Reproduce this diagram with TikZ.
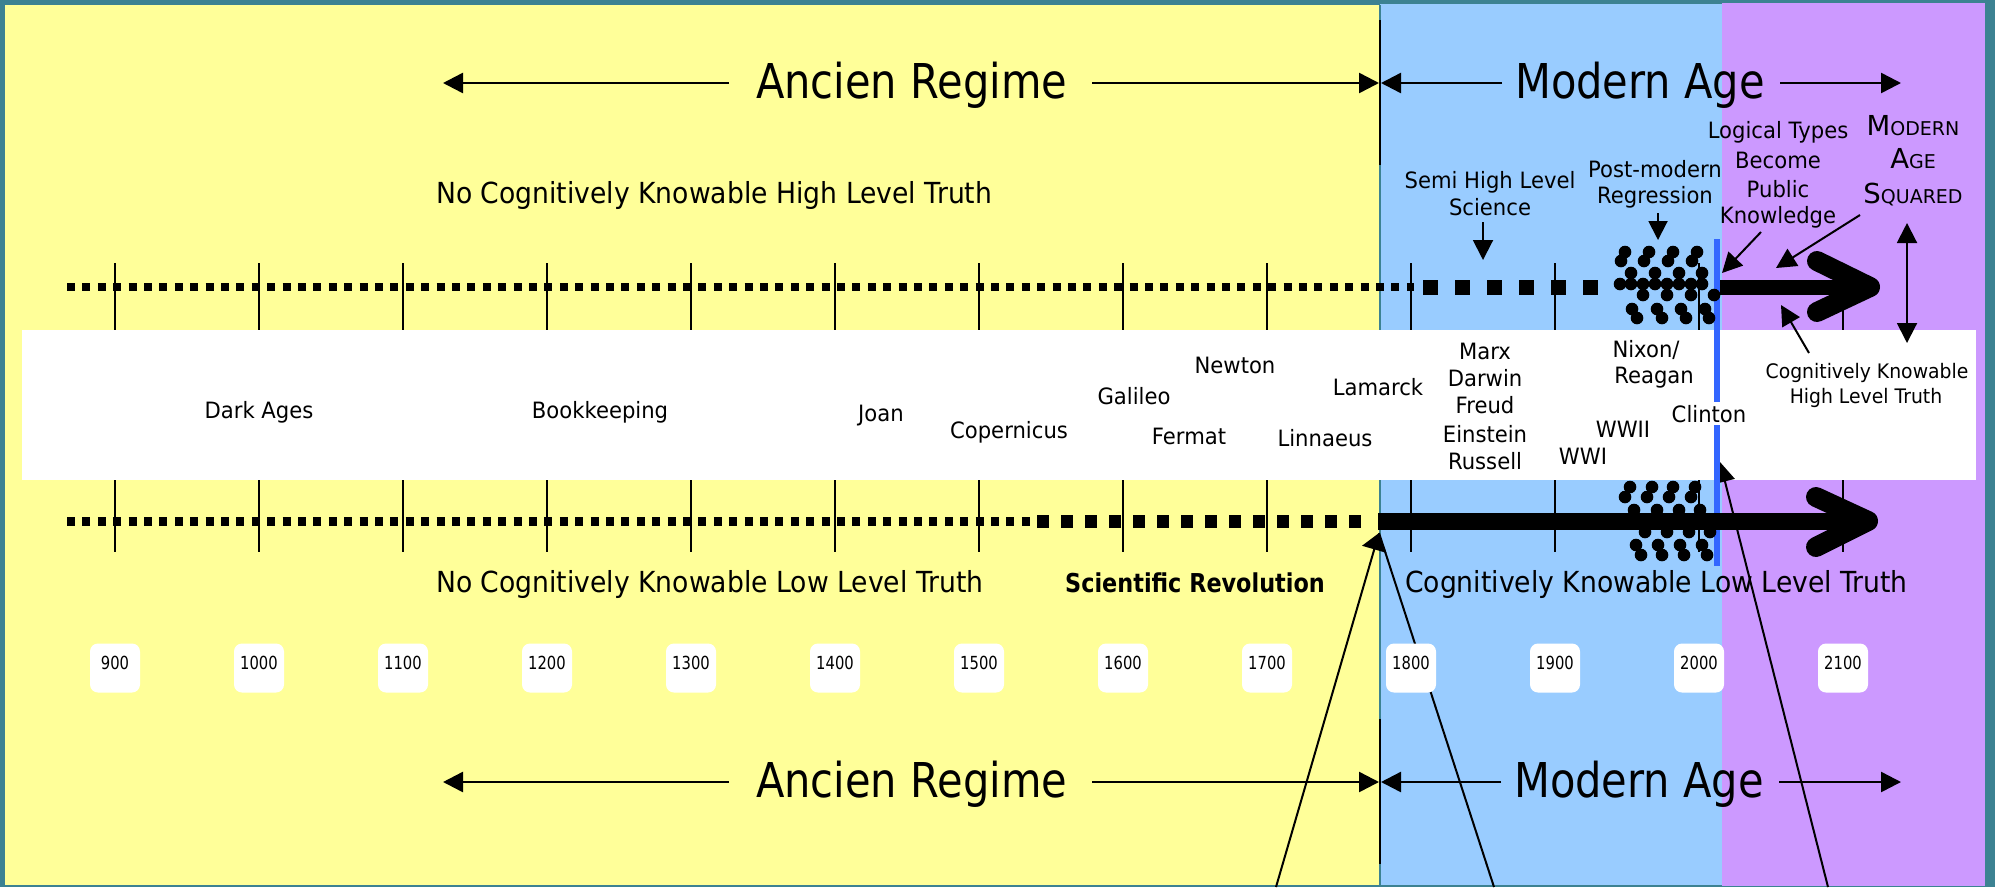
\documentclass[tikz,border=0pt]{standalone}
\usepackage{fontspec}
\setmainfont{DejaVu Sans}
\newfontfamily\fnames[FakeStretch=0.94]{DejaVu Sans}
\newfontfamily\ftitle[FakeStretch=0.866]{DejaVu Sans}
\newfontfamily\ftruth[FakeStretch=0.918]{DejaVu Sans}
\newfontfamily\fyear[FakeStretch=0.82]{DejaVu Sans}
\newfontfamily\fboldsr[FakeStretch=0.86]{DejaVu Sans}
\newfontfamily\fsc{DejaVu Sans}
\usetikzlibrary{arrows.meta}
\definecolor{frame}{RGB}{60,130,146}
\definecolor{ylw}{HTML}{FFFF99}
\definecolor{blu}{HTML}{99CCFF}
\definecolor{pur}{HTML}{CC99FF}
\definecolor{bline}{HTML}{3366FF}
\newcommand{\bigsc}{\fontsize{27.5pt}{33pt}\selectfont}
\newcommand{\smallsc}{\fontsize{19pt}{33pt}\selectfont}
\begin{document}
\begin{tikzpicture}[x=1pt,y=-1pt,
  lbl/.style={inner sep=0pt, anchor=base, font={\fnames\fontsize{22.5pt}{27pt}\selectfont}},
  smalllbl/.style={inner sep=0pt, anchor=base, font={\fnames\fontsize{20pt}{25pt}\selectfont}},
  sclbl/.style={inner sep=0pt, anchor=base, font={\fsc}},
  titlelbl/.style={inner sep=0pt, anchor=base west, font={\ftitle\fontsize{48pt}{58pt}\selectfont}},
  truthlbl/.style={inner sep=0pt, anchor=base west, font={\ftruth\fontsize{29pt}{35pt}\selectfont}},
  boldlbl/.style={inner sep=0pt, anchor=base west, font={\fboldsr\bfseries\fontsize{26pt}{31pt}\selectfont}},
  yearbox/.style={fill=white, rounded corners=8pt, minimum width=50pt, minimum height=49pt, inner sep=0pt,
    text height=13pt, text depth=10pt, font={\fyear\fontsize{18pt}{22pt}\selectfont}},
  ptr/.style={line width=2.5pt, -{Triangle[length=20pt,width=20pt]}},
  thinptr/.style={line width=2pt, -{Triangle[length=20pt,width=20pt]}},
  dblptr/.style={line width=2pt, {Triangle[length=20pt,width=20pt]}-{Triangle[length=20pt,width=20pt]}},
  tick/.style={line width=2pt},
  chevron/.style={line width=20pt, line cap=round, line join=round},
  dot/.style={fill=black}
]
\useasboundingbox (0,0) rectangle (1995,887);
% background panels
\fill[frame] (0,0) rectangle (1995,887);
\fill[ylw] (5,5) rectangle (1380,885);
\fill[blu] (1380,4) rectangle (1722,885);
\fill[pur] (1722,3) rectangle (1985,886);
\draw[frame, line width=1.2pt] (1380,5) -- (1380,885);

% ticks
\foreach \i in {0,...,12} \draw[tick] ({115+144*\i},263) -- ({115+144*\i},552);

% white band
\fill[white] (22,330) rectangle (1976,480);

% long pointer lines from below
\coordinate (srTip) at (1379,533);
\coordinate (clTip) at (1720,462);
\coordinate (bl1) at (1276,887);
\coordinate (bl2) at (1494,887);
\coordinate (bl3) at (1828,887);
\draw[line width=2pt] (bl2) -- (srTip);
\draw[line width=2pt, -{Triangle[length=17pt,width=25pt]}] (bl1) -- (srTip);
\draw[thinptr] (bl3) -- (clTip);

% year boxes
\foreach \yr [count=\i from 0] in {900,1000,...,2100}
  \node[yearbox] (y\yr) at ({115+144*\i},668) {\yr};

% dotted / dashed lines
\draw[line width=8pt, dash pattern=on 8pt off 7.4pt] (67,287) -- (1414,287);
\draw[line width=15pt, dash pattern=on 15pt off 17pt] (1423,287) -- (1599,287);
\draw[line width=9pt, dash pattern=on 8pt off 7.4pt] (67,521) -- (1040,521);
\draw[line width=13pt, dash pattern=on 12pt off 12pt] (1037,521) -- (1367,521);

% blue line
\draw[bline, line width=6pt] (1717,239) -- (1717,402);
\draw[bline, line width=6pt] (1717,425) -- (1717,566);

% thick arrows
\draw[line width=17pt] (1378,521) -- (1866,521);
\draw[chevron] (1816,497) -- (1868,521) -- (1816,547);
\draw[line width=15pt] (1720,287) -- (1866,287);
\draw[chevron] (1817,261) -- (1870,287) -- (1817,312);

% dot clusters
\foreach \p in {(1625,252),(1621,261),(1649,252),(1644,261),(1673,252),(1668,261),(1697,252),(1692,261),
  (1631,273),(1655,273),(1679,273),(1702,273),
  (1620,284),(1631,284),(1643,284),(1655,284),(1667,284),(1679,284),(1691,284),(1702,284),
  (1643,295),(1667,295),(1691,295),(1714,295),
  (1632,309),(1637,318),(1657,309),(1662,318),(1681,309),(1686,318),(1705,309),(1709,318)}
  \fill[dot] \p circle (6.3);
\foreach \p in {(1630,487),(1625,497),(1652,487),(1647,497),(1673,487),(1669,497),(1695,487),(1691,497),
  (1634,510),(1657,510),(1679,510),(1700,510),
  (1645,532),(1667,532),(1689,532),(1710,532),
  (1636,545),(1641,555),(1658,545),(1662,555),(1680,545),(1684,555),(1702,545),(1707,555)}
  \fill[dot] \p circle (6.3);

% boundary lines
\draw[line width=2.5pt] (1380,20) -- (1380,165);
\draw[line width=2.5pt] (1380,719) -- (1380,864);

% titles and their arrows
\node[titlelbl] (ar1) at (756,98) {Ancien Regime};
\node[titlelbl] (ma1) at (1515,98) {Modern Age};
\node[titlelbl] (ar2) at (756,797) {Ancien Regime};
\node[titlelbl] (ma2) at (1514,797) {Modern Age};
\coordinate (a1l) at (443,83);  \coordinate (a1r) at (1379,83);
\coordinate (m1l) at (1381,83); \coordinate (m1r) at (1901,83);
\coordinate (a2l) at (443,782); \coordinate (a2r) at (1379,782);
\coordinate (m2l) at (1381,782); \coordinate (m2r) at (1901,782);
\draw[ptr] (729,83) -- (a1l);
\draw[ptr] (1092,83) -- (a1r);
\draw[ptr] (1502,83) -- (m1l);
\draw[ptr] (1780,83) -- (m1r);
\draw[ptr] (729,782) -- (a2l);
\draw[ptr] (1092,782) -- (a2r);
\draw[ptr] (1501,782) -- (m2l);
\draw[ptr] (1779,782) -- (m2r);

% truth lines
\node[truthlbl] (nohigh) at (436,203) {No Cognitively Knowable High Level Truth};
\node[truthlbl] (nolow) at (436,592) {No Cognitively Knowable Low Level Truth};
\node[boldlbl] (scirev) at (1065,592) {Scientific Revolution};
\node[truthlbl] (cklow) at (1405,592) {Cognitively Knowable Low Level Truth};

% names in the band
\node[lbl] (dark) at (259,418) {Dark Ages};
\node[lbl] (book) at (600,418) {Bookkeeping};
\node[lbl] (joan) at (881,421) {Joan};
\node[lbl] (cop) at (1009,438) {Copernicus};
\node[lbl] (gal) at (1134,404) {Galileo};
\node[lbl] (newt) at (1235,373) {Newton};
\node[lbl] (ferm) at (1189,444) {Fermat};
\node[lbl] (lam) at (1378,395) {Lamarck};
\node[lbl] (lin) at (1325,446) {Linnaeus};
\node[lbl] (marx) at (1485,359) {Marx};
\node[lbl] (darw) at (1485,386) {Darwin};
\node[lbl] (freud) at (1485,413) {Freud};
\node[lbl] (ein) at (1485,442) {Einstein};
\node[lbl] (rus) at (1485,469) {Russell};
\node[lbl] (nix) at (1646,357) {Nixon/};
\node[lbl] (rea) at (1654,383) {Reagan};
\node[lbl] (ww2) at (1623,437) {WWII};
\node[lbl] (ww1) at (1583,464) {WWI};
\node[lbl] (clin) at (1709,422) {Clinton};
\node[smalllbl] (ck1) at (1867,378) {Cognitively Knowable};
\node[smalllbl] (ck2) at (1866,403) {High Level Truth};

% labels above the upper line
\node[lbl] (semi1) at (1490,188) {Semi High Level};
\node[lbl] (semi2) at (1490,215) {Science};
\node[lbl] (pm1) at (1655,177) {Post-modern};
\node[lbl] (pm2) at (1655,203) {Regression};
\node[lbl] (lt1) at (1778,138) {Logical Types};
\node[lbl] (lt2) at (1778,168) {Become};
\node[lbl] (lt3) at (1778,197) {Public};
\node[lbl] (lt4) at (1778,223) {Knowledge};
\node[sclbl] (mas1) at (1913,135) {\bigsc M\smallsc ODERN};
\node[sclbl] (mas2) at (1913,168) {\bigsc A\smallsc GE};
\node[sclbl] (mas3) at (1913,203) {\bigsc S\smallsc QUARED};

% small pointers
\coordinate (semiT) at (1483,260);
\coordinate (pmT) at (1658,240);
\coordinate (ltT) at (1722,273);
\coordinate (masT) at (1776,268);
\coordinate (dblTop) at (1907,223);
\coordinate (dblBot) at (1907,343);
\coordinate (ckT) at (1781,305);
\draw[thinptr] (1483,222) -- (semiT);
\draw[line width=2pt, -{Triangle[length=19pt,width=19pt]}] (1658,213) -- (pmT);
\draw[thinptr] (1761,232) -- (ltT);
\draw[thinptr] (1860,215) -- (masT);
\draw[dblptr] (dblTop) -- (dblBot);
\draw[thinptr] (1809,353) -- (ckT);
\end{tikzpicture}
\end{document}
